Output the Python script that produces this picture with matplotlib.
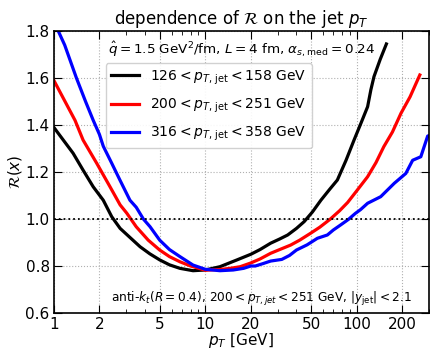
import numpy as np
import matplotlib.pyplot as plt
from matplotlib.ticker import FixedLocator, NullFormatter

# curves (pT in GeV, R(x))
pt_black = [1.0, 1.34, 1.56, 1.82, 2.12, 2.41, 2.74, 3.2, 3.71, 4.3, 5.0, 5.8, 6.8, 8.3, 10.0,
            12.5, 16.2, 20.0, 23.0, 27.0, 31.0, 35.0, 40.0, 45.0, 51.0, 58.0, 66.0, 74.5,
            85.0, 96.0, 107.0, 118.0, 124.0, 130.0, 143.0, 157.0]
r_black = [1.39, 1.28, 1.208, 1.137, 1.08, 1.01, 0.96, 0.92, 0.882, 0.852, 0.826, 0.805, 0.79,
           0.78, 0.783, 0.797, 0.826, 0.85, 0.87, 0.897, 0.915, 0.932, 0.96, 0.989, 1.03, 1.08,
           1.125, 1.166, 1.25, 1.336, 1.41, 1.478, 1.55, 1.606, 1.68, 1.745]

pt_red = [1.0, 1.38, 1.56, 1.92, 2.35, 2.74, 3.03, 3.5, 4.2, 5.0, 5.8, 6.8, 8.0, 9.3, 10.0,
          12.5, 14.6, 17.0, 20.0, 23.0, 27.0, 31.0, 36.6, 42.0, 49.5, 57.0, 67.0, 77.0, 87.0,
          100.0, 118.0, 134.0, 151.0, 172.0, 196.0, 225.0, 261.0]
r_red = [1.59, 1.42, 1.336, 1.237, 1.137, 1.06, 1.025, 0.967, 0.91, 0.868, 0.84, 0.818, 0.8,
         0.788, 0.782, 0.785, 0.79, 0.797, 0.813, 0.83, 0.854, 0.87, 0.889, 0.91, 0.939, 0.965,
         1.0, 1.035, 1.07, 1.12, 1.18, 1.24, 1.308, 1.37, 1.45, 1.52, 1.613]

pt_blue = [1.0, 1.07, 1.18, 1.41, 1.62, 1.82, 2.0, 2.12, 2.4, 2.73, 3.18, 3.5, 3.9, 4.32, 5.0,
           5.8, 6.8, 8.3, 10.0, 12.5, 15.3, 17.9, 20.0, 21.4, 24.0, 27.0, 32.0, 36.0, 40.0,
           47.0, 55.0, 64.0, 70.0, 78.0, 88.0, 98.0, 106.0, 118.0, 144.0, 177.0, 211.0,
           234.0, 265.0, 294.0, 300.0]
r_blue = [1.84, 1.8, 1.74, 1.6, 1.5, 1.42, 1.36, 1.31, 1.24, 1.166, 1.08, 1.05, 1.0, 0.967,
          0.91, 0.87, 0.84, 0.804, 0.786, 0.78, 0.783, 0.79, 0.8, 0.8, 0.81, 0.821, 0.828,
          0.845, 0.868, 0.89, 0.918, 0.932, 0.953, 0.974, 0.998, 1.024, 1.04, 1.067, 1.095,
          1.152, 1.194, 1.25, 1.265, 1.353, 1.355]

labels = [r'$126 < p_{T,\,\mathrm{jet}} < 158$ GeV',
          r'$200 < p_{T,\,\mathrm{jet}} < 251$ GeV',
          r'$316 < p_{T,\,\mathrm{jet}} < 358$ GeV']

xticks = [1, 2, 5, 10, 20, 50, 100, 200]
yticks = [0.6, 0.8, 1.0, 1.2, 1.4, 1.6, 1.8]

fig = plt.figure(figsize=(4.45, 3.61), dpi=100)
ax = fig.add_axes([0.121, 0.133, 0.843, 0.781])

ax.plot(pt_black, r_black, color='black', lw=2.3, label=labels[0])
ax.plot(pt_red, r_red, color='red', lw=2.3, label=labels[1])
ax.plot(pt_blue, r_blue, color='blue', lw=2.3, label=labels[2])
ax.axhline(1.0, color='black', ls=':', lw=1.3)

ax.set_xscale('log')
ax.set_xlim(1, 300)
ax.set_ylim(0.6, 1.8)
ax.xaxis.set_major_locator(FixedLocator(xticks))
ax.set_xticklabels([str(t) for t in xticks])
ax.xaxis.set_minor_formatter(NullFormatter())
ax.set_yticks(yticks)
ax.set_yticklabels(['%.1f' % t for t in yticks])
ax.tick_params(which='both', direction='in', top=True, right=True, labelsize=11)
ax.tick_params(which='major', length=6, pad=3)
ax.tick_params(which='minor', length=3)
ax.grid(True, which='major', ls=':', color='#b0b0b0', lw=0.8)
for s in ax.spines.values():
    s.set_linewidth(1.2)

ax.set_title(r'dependence of $\mathcal{R}$ on the jet $p_T$', fontsize=12, pad=5)
ax.set_xlabel(r'$p_T$ [GeV]', fontsize=11, labelpad=-1)
ax.set_ylabel(r'$\mathcal{R}(x)$', fontsize=11, labelpad=1)

ax.text(0.5, 0.935, r'$\hat{q} = 1.5$ GeV$^2$/fm, $L = 4$ fm, $\alpha_{s,\mathrm{med}} = 0.24$',
        transform=ax.transAxes, ha='center', va='center', fontsize=9.7)
ax.text(0.955, 0.05, r'anti-$k_t$($R = 0.4$), $200 < p_{T,jet} < 251$ GeV, $|y_{\mathrm{jet}}| < 2.1$',
        transform=ax.transAxes, ha='right', va='center', fontsize=8.7)

ax.legend(loc='upper center', bbox_to_anchor=(0.413, 0.887), fontsize=10,
          handlelength=2.0, labelspacing=0.7, borderaxespad=0.0, framealpha=0.9)

fig.savefig('out.png', dpi=100)
